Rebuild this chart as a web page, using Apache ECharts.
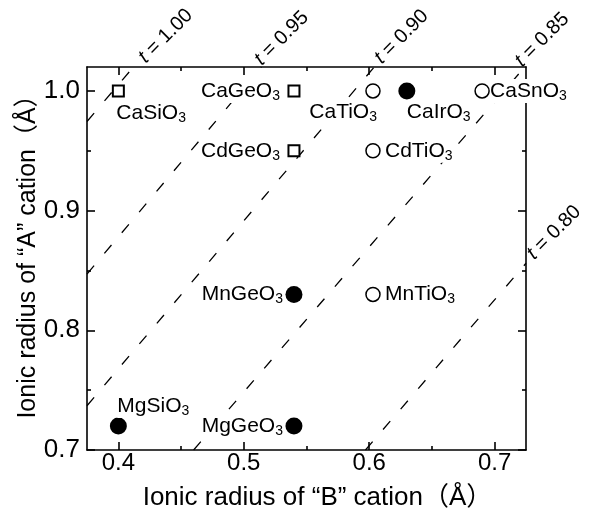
<!DOCTYPE html>
<html>
<head>
<meta charset="utf-8">
<script src="https://cdn.jsdelivr.net/npm/echarts@6/dist/echarts.min.js"></script>
<style>
html, body { margin: 0; padding: 0; background: #fff; }
#chart { width: 589px; height: 512px; }
</style>
</head>
<body>
<div id="chart"></div>
<script>
// perovskite compounds: B-site radius (x) vs A-site radius (y)
const names = ['CaSiO3', 'CaGeO3', 'CdGeO3', 'CaTiO3', 'CaIrO3', 'CaSnO3', 'CdTiO3', 'MnGeO3', 'MnTiO3', 'MgSiO3', 'MgGeO3']
const rB = [0.40, 0.54, 0.54, 0.603, 0.63, 0.69, 0.603, 0.54, 0.603, 0.40, 0.54]
const rA = [1.00, 1.00, 0.95, 1.00, 1.00, 1.00, 0.95, 0.83, 0.83, 0.72, 0.72]
const kind = ['square', 'square', 'square', 'open', 'filled', 'open', 'open', 'filled', 'open', 'filled', 'filled']

// tolerance factor lines (start / end points)
const tLabels = ['1.00', '0.95', '0.90', '0.85', '0.80']
const tStart = [[0.375, 0.9745], [0.375, 0.847], [0.375, 0.737], [0.46, 0.70], [0.597, 0.70]]
const tEnd = [[0.412, 1.02], [0.514, 1.02], [0.604, 1.02], [0.724, 1.02], [0.725, 0.856]]

const xMajor = [0.4, 0.5, 0.6, 0.7]
const xMinor = [0.45, 0.55, 0.65]
const yMajor = [0.7, 0.8, 0.9, 1.0]
const yMinor = [0.75, 0.85, 0.95]

const FONT = "'Liberation Sans', Arial, Helvetica, 'Noto Sans CJK JP', sans-serif"

// where each compound label sits relative to its marker
const place = {
  CaSiO3: {align: 'left', offset: [-2, 22]},
  CaGeO3: {align: 'right', offset: [-14, 0]},
  CdGeO3: {align: 'right', offset: [-14, 0]},
  CaTiO3: {align: 'right', offset: [4, 21]},
  CaIrO3: {align: 'left', offset: [0, 21]},
  CaSnO3: {align: 'left', offset: [8, 0]},
  CdTiO3: {align: 'left', offset: [12, 0]},
  MnGeO3: {align: 'right', offset: [-11, 0]},
  MnTiO3: {align: 'left', offset: [12, 0]},
  MgSiO3: {align: 'left', offset: [-1, -20]},
  MgGeO3: {align: 'right', offset: [-11, 0]}
}
// offsets of the rotated t labels (in the label's own rotated frame)
const tPlace = [[11, 1], [1, -6], [7, -2], [-2, -7], [8, -2]]

function pointsOf(k){
  const out = []
  names.forEach((n, i) => {
    if (kind[i] !== k) return
    out.push({
      name: n,
      value: [rB[i], rA[i]],
      label: {
        show: true,
        position: ['50%', '50%'],
        align: place[n].align,
        verticalAlign: 'middle',
        offset: place[n].offset
      }
    })
  })
  return out
}

const compLabel = {
  color: '#000',
  fontFamily: FONT,
  fontSize: 21,
  backgroundColor: '#fff',
  formatter: p => p.name.replace(/(\d)$/, '{s|$1}'),
  rich: {
    s: {fontSize: 14, fontFamily: FONT, color: '#000', padding: [10, 0, 0, 0]}
  }
}

function xAx(pos, values, len, main){
  return {
    type: 'value', position: pos, min: 0.375, max: 0.725, splitNumber: 4,
    axisLine: {show: main, onZero: false, lineStyle: {color: '#000', width: 1.6}},
    axisTick: {show: true, inside: true, length: len, customValues: values, lineStyle: {color: '#000', width: 1.6}},
    axisLabel: {show: false},
    splitLine: {show: false}
  }
}
function yAx(pos, values, len, main){
  return {
    type: 'value', position: pos, min: 0.7, max: 1.02, splitNumber: 4,
    axisLine: {show: main, onZero: false, lineStyle: {color: '#000', width: 1.6}},
    axisTick: {show: true, inside: true, length: len, customValues: values, lineStyle: {color: '#000', width: 1.6}},
    axisLabel: {show: false},
    splitLine: {show: false}
  }
}

const xBottom = xAx('bottom', xMajor, 8, true)
xBottom.axisLabel = {
  show: true, customValues: xMajor, margin: 1, color: '#000', fontSize: 24, fontFamily: FONT,
  formatter: v => v.toFixed(1)
}
xBottom.name = 'Ionic radius of “B” cation（Å）'
xBottom.nameLocation = 'middle'
xBottom.nameGap = 35
xBottom.nameMoveOverlap = false
xBottom.nameTextStyle = {color: '#000', fontSize: 26, fontFamily: FONT, padding: [0, 0, 0, 22]}

const yLeft = yAx('left', yMajor, 8, true)
yLeft.axisLabel = {
  show: true, customValues: yMajor, margin: 7, color: '#000', fontSize: 26, fontFamily: FONT,
  formatter: v => v.toFixed(1)
}
yLeft.name = 'Ionic radius of “A” cation（Å）'
yLeft.nameLocation = 'middle'
yLeft.nameGap = 46
yLeft.nameMoveOverlap = false
yLeft.nameTextStyle = {color: '#000', fontSize: 25, fontFamily: FONT, padding: [0, 0, 0, 16]}

const lineSeries = tLabels.map((t, i) => ({
  type: 'line',
  xAxisIndex: 0, yAxisIndex: 0,
  silent: true,
  symbol: 'circle', symbolSize: 0, showSymbol: true,
  lineStyle: {color: '#000', width: 1.3, type: [11, 16]},
  z: 1,
  data: [
    tStart[i],
    {
      value: tEnd[i],
      label: {
        show: true,
        position: ['50%', '50%'],
        align: 'left', verticalAlign: 'middle',
        offset: tPlace[i],
        rotate: 45,
        color: '#000', fontSize: 20, fontFamily: FONT,
        formatter: '{it|t} = ' + t,
        rich: {it: {fontStyle: 'italic', fontSize: 20, fontFamily: FONT, color: '#000'}}
      }
    }
  ]
}))

const options = {
  animation: false,
  backgroundColor: '#fff',
  grid: {left: 87, right: 63, top: 67, bottom: 62, outerBoundsMode: 'none'},
  xAxis: [xBottom, xAx('bottom', xMinor, 4, false), xAx('top', xMajor, 8, true), xAx('top', xMinor, 4, false)],
  yAxis: [yLeft, yAx('left', yMinor, 4, false), yAx('right', yMajor, 8, true), yAx('right', yMinor, 4, false)],
  series: [
    ...lineSeries,
    {
      type: 'scatter', xAxisIndex: 0, yAxisIndex: 0, z: 3,
      symbol: 'rect', symbolSize: 11,
      itemStyle: {color: '#fff', borderColor: '#000', borderWidth: 2, opacity: 1},
      label: compLabel,
      data: pointsOf('square')
    },
    {
      type: 'scatter', xAxisIndex: 0, yAxisIndex: 0, z: 3,
      symbol: 'circle', symbolSize: 14,
      itemStyle: {color: '#fff', borderColor: '#000', borderWidth: 1.5, opacity: 1},
      label: compLabel,
      data: pointsOf('open')
    },
    {
      type: 'scatter', xAxisIndex: 0, yAxisIndex: 0, z: 3,
      symbol: 'circle', symbolSize: 17,
      itemStyle: {color: '#000', opacity: 1},
      label: compLabel,
      data: pointsOf('filled')
    }
  ]
}

const chart = echarts.init(document.getElementById('chart'))
chart.setOption(options)
window.addEventListener('resize', () => chart.resize())
</script>
</body>
</html>
